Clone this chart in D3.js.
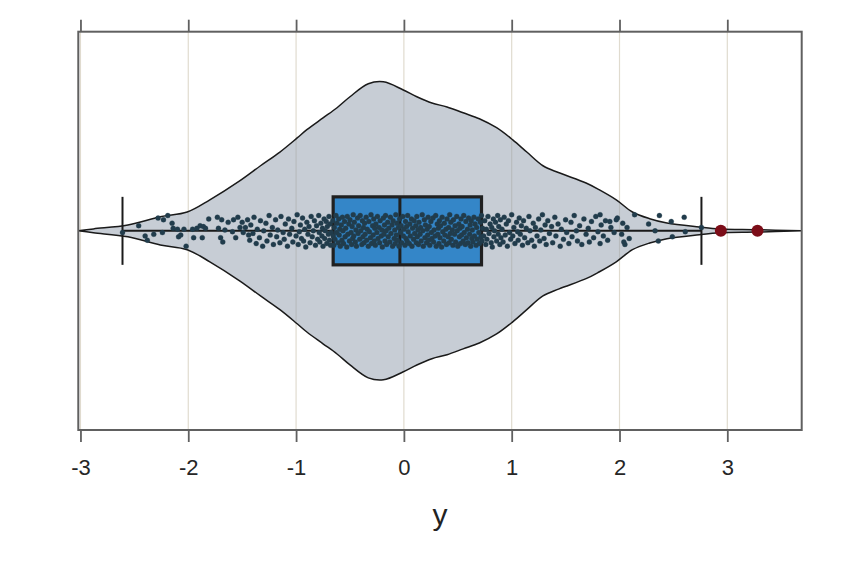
<!DOCTYPE html>
<html>
<head>
<meta charset="utf-8">
<script src="https://cdn.jsdelivr.net/npm/d3@7"></script>
<style>
  html, body { margin: 0; padding: 0; background: #ffffff; }
  svg { display: block; font-family: "Liberation Sans", Arial, Helvetica, sans-serif; }
</style>
</head>
<body>
<div id="Violin-div"></div>
<script>
const CHART_WIDTH = 864;
const CHART_HEIGHT = 576;
const PLOT = { left: 78.3, right: 801.7, top: 31.7, bottom: 430 };

// axis
const xTicks = [-3, -2, -1, 0, 1, 2, 3];
const xDomain = [-3.02, 3.69];
const axisTitle = 'y';

// density outline of the violin (value, density)
const violinValues  = [-3.02, -2.88, -2.56, -2.26, -2.01, -1.80, -1.52, -1.33, -1.15, -0.99, -0.90, -0.75, -0.62, -0.50, -0.33, -0.19, -0.01, 0.12, 0.26, 0.40, 0.55, 0.70, 0.86, 1.01, 1.14, 1.29, 1.44, 1.69, 1.81, 1.97, 2.12, 2.28, 2.44, 2.74, 2.93, 3.27, 3.69];
const violinDensity = [0.000, 0.005, 0.015, 0.036, 0.048, 0.079, 0.128, 0.166, 0.201, 0.237, 0.258, 0.288, 0.314, 0.342, 0.375, 0.380, 0.360, 0.342, 0.326, 0.316, 0.301, 0.286, 0.263, 0.232, 0.201, 0.166, 0.148, 0.122, 0.105, 0.079, 0.048, 0.031, 0.020, 0.010, 0.005, 0.003, 0.000];

// box: q1, median, q3 and whisker ends
const boxStats = [-0.656, -0.037, 0.72];
const whiskers = [-2.61, 2.76];
const outliers = [2.94, 3.28];

// jittered observations: [value, vertical jitter (-1..1)]
const jitterPoints = [
  [-2.61,0.1],[-2.46,-0.3],[-2.40,0.3],[-2.38,0.55],[-2.32,0.2],[-2.28,-0.75],[-2.24,0.1],[-2.23,-0.65],[-2.19,-0.9],[-2.15,-0.45],
  [-2.14,-0.15],[-2.10,-0.1],[-2.09,0.35],[-2.07,0.25],[-2.04,-0.1],[-2.02,0.9],[-1.96,-0.1],[-1.95,0.4],[-1.92,-0.15],[-1.89,-0.3],
  [-1.87,0.4],[-1.86,-0.25],[-1.84,-0.15],[-1.81,-0.7],[-1.73,-0.8],[-1.72,-0.15],[-1.70,0.4],[-1.69,-0.65],[-1.68,0.65],[-1.66,-0.05],
  [-1.63,-0.5],[-1.59,0.05],[-1.58,-0.65],[-1.56,0.4],[-1.54,-0.8],[-1.52,-0.2],[-1.50,-0.5],[-1.49,0.1],[-1.47,-0.2],[-1.45,-0.65],[-1.44,0.25],
  [-1.43,0.55],[-1.42,-0.35],[-1.40,0.15],[-1.39,-0.8],[-1.37,0.75],[-1.36,-0.1],[-1.34,0.4],[-1.33,-0.6],[-1.31,0.9],[-1.30,0.0],
  [-1.28,-0.45],[-1.27,0.6],[-1.25,-0.9],[-1.24,0.25],[-1.22,-0.2],[-1.21,0.8],[-1.19,-0.65],[-1.18,0.35],[-1.17,-0.05],[-1.15,0.7],
  [-1.14,-0.85],[-1.12,0.1],[-1.11,0.5],[-1.10,-0.4],[-1.08,0.9],[-1.07,-0.7],[-1.06,0.2],[-1.04,-0.15],[-1.03,0.65],[-1.02,-0.55],
  [-1.00,0.3],[-0.99,-0.95],[-0.98,0.8],[-0.97,0.05],[-0.96,-0.35],[-0.95,0.45],[-0.94,-0.75],[-0.93,0.6],[-0.92,-0.1],[-0.91,0.95],
  [-0.90,-0.5],[-0.89,0.2],[-0.88,-0.25],[-0.87,0.7],[-0.86,-0.85],[-0.85,0.35],[-0.84,0.0],[-0.83,-0.6],[-0.82,0.85],[-0.81,-0.3],
  [-0.80,0.5],[-0.79,-0.9],[-0.785,0.1],[-0.78,0.65],[-0.77,-0.45],[-0.76,0.3],[-0.755,-0.15],[-0.75,0.9],[-0.74,-0.7],[-0.735,0.45],
  [-0.73,0.0],[-0.72,-0.55],[-0.715,0.75],[-0.71,-0.25],[-0.70,0.2],[-0.695,-0.85],[-0.69,0.55],[-0.685,-0.4],[-0.68,0.85],[-0.675,0.1],
  [-0.66,-0.6],[-0.655,0.3],[-0.65,0.85],[-0.645,-0.2],[-0.64,0.5],[-0.63,-0.9],[-0.625,0.1],[-0.62,-0.45],[-0.61,0.7],[-0.605,-0.7],
  [-0.60,0.25],[-0.595,-0.1],[-0.59,0.9],[-0.58,-0.35],[-0.575,0.55],[-0.57,-0.8],
  [-0.565,0.0],[-0.56,0.75],[-0.55,-0.55],[-0.545,0.35],[-0.54,-0.15],[-0.53,0.95],[-0.525,-0.85],[-0.52,0.2],[-0.51,-0.4],[-0.505,0.6],
  [-0.50,-0.65],[-0.49,0.1],[-0.485,0.8],[-0.48,-0.25],[-0.475,0.45],[-0.47,-0.95],
  [-0.465,0.3],[-0.46,-0.5],[-0.45,0.65],[-0.445,-0.05],[-0.44,0.9],[-0.43,-0.75],[-0.425,0.15],[-0.42,-0.3],[-0.41,0.5],[-0.405,-0.9],
  [-0.40,0.0],[-0.39,0.8],[-0.385,-0.6],[-0.38,0.35],[-0.375,-0.2],[-0.37,0.7],
  [-0.365,-0.45],[-0.36,0.2],[-0.35,-0.8],[-0.345,0.55],[-0.34,-0.1],[-0.33,0.9],[-0.325,-0.55],[-0.32,0.05],[-0.31,0.4],[-0.305,-0.95],
  [-0.30,0.75],[-0.29,-0.3],[-0.285,0.25],[-0.28,-0.7],[-0.275,0.6],[-0.27,-0.15],
  [-0.265,0.85],[-0.26,-0.4],[-0.25,0.1],[-0.245,-0.85],[-0.24,0.45],[-0.23,-0.2],[-0.225,0.7],[-0.22,-0.6],[-0.21,0.3],[-0.205,-0.05],
  [-0.20,0.95],[-0.19,-0.75],[-0.185,0.2],[-0.18,-0.35],[-0.175,0.6],[-0.17,-0.9],
  [-0.165,0.0],[-0.16,0.8],[-0.15,-0.5],[-0.145,0.35],[-0.14,-0.15],[-0.13,0.65],[-0.125,-0.8],[-0.12,0.15],[-0.11,-0.35],[-0.105,0.9],
  [-0.10,-0.6],[-0.09,0.45],[-0.085,-0.05],[-0.08,0.75],[-0.075,-0.95],[-0.07,0.25],
  [-0.065,-0.45],[-0.06,0.55],[-0.05,-0.2],[-0.045,0.9],[-0.04,-0.7],[-0.03,0.1],[-0.025,-0.3],[-0.02,0.7],[-0.01,-0.85],[-0.005,0.3],
  [0.0,-0.1],[0.01,0.85],[0.015,-0.55],[0.02,0.45],[0.025,-0.25],[0.03,0.6],
  [0.035,-0.9],[0.04,0.05],[0.05,0.75],[0.055,-0.4],[0.06,0.3],[0.07,-0.7],[0.075,0.9],[0.08,-0.15],[0.09,0.5],[0.095,-0.6],
  [0.10,0.15],[0.11,-0.3],[0.115,0.7],[0.12,-0.85],[0.125,0.35],[0.13,-0.05],
  [0.135,0.8],[0.14,-0.5],[0.15,0.2],[0.155,-0.2],[0.16,0.6],[0.17,-0.95],[0.175,0.0],[0.18,0.9],[0.19,-0.65],[0.195,0.4],
  [0.20,-0.35],[0.21,0.7],[0.215,-0.1],[0.22,0.25],[0.225,-0.8],[0.23,0.55],
  [0.235,-0.25],[0.24,0.85],[0.25,-0.55],[0.255,0.1],[0.26,0.45],[0.27,-0.75],[0.275,0.65],[0.28,-0.05],[0.29,0.3],[0.295,-0.9],
  [0.30,0.9],[0.31,-0.4],[0.315,0.2],[0.32,-0.15],[0.325,0.75],[0.33,-0.6],
  [0.335,0.4],[0.34,-0.3],[0.35,0.95],[0.355,-0.8],[0.36,0.05],[0.37,0.6],[0.375,-0.45],[0.38,0.25],[0.39,-0.1],[0.395,0.8],
  [0.40,-0.7],[0.41,0.35],[0.415,-0.2],[0.42,0.7],[0.425,-0.95],[0.43,0.15],
  [0.435,-0.5],[0.44,0.5],[0.45,-0.05],[0.455,0.85],[0.46,-0.65],[0.47,0.2],[0.475,-0.3],[0.48,0.65],[0.49,-0.85],[0.495,0.0],
  [0.50,0.9],[0.51,-0.4],[0.515,0.35],[0.52,-0.15],[0.525,0.75],[0.53,-0.7],
  [0.535,0.25],[0.54,-0.25],[0.55,0.6],[0.555,-0.9],[0.56,0.1],[0.57,0.8],[0.575,-0.55],[0.58,0.4],[0.59,-0.1],[0.595,0.7],
  [0.60,-0.75],[0.61,0.2],[0.615,-0.35],[0.62,0.9],[0.625,-0.6],[0.63,0.45],
  [0.635,-0.05],[0.64,0.65],[0.65,-0.8],[0.655,0.3],[0.66,-0.4],[0.67,0.85],[0.675,-0.2],[0.68,0.5],[0.69,-0.7],[0.695,0.1],
  [0.70,0.75],[0.71,-0.5],[0.715,0.35],[0.72,-0.9],[0.725,0.6],[0.73,-0.15],
  [0.74,0.3],[0.75,-0.6],[0.76,0.8],[0.765,-0.1],[0.77,0.5],[0.78,-0.85],[0.79,0.15],[0.80,-0.4],[0.81,0.7],[0.815,-0.2],
  [0.82,0.95],[0.83,-0.7],[0.835,0.35],[0.84,0.0],[0.85,-0.5],[0.86,0.6],[0.87,-0.9],[0.875,0.2],[0.88,-0.25],[0.89,0.8],
  [0.895,-0.65],[0.90,0.4],[0.91,-0.1],[0.92,0.65],[0.93,-0.8],[0.94,0.25],[0.95,-0.4],[0.96,0.9],[0.97,-0.6],[0.98,0.1],
  [0.99,0.5],[1.00,-0.95],[1.01,0.3],[1.02,-0.2],[1.03,0.75],[1.045,-0.5],[1.055,0.05],[1.06,0.55],[1.07,-0.75],[1.08,0.2],
  [1.09,-0.3],[1.10,0.85],[1.11,-0.6],[1.12,0.4],[1.135,-0.15],[1.15,0.7],[1.16,-0.85],[1.17,0.0],[1.185,0.55],[1.20,-0.45],
  [1.21,0.9],[1.22,-0.2],[1.235,0.3],[1.25,-0.7],[1.26,0.6],[1.27,-0.05],[1.285,-0.95],[1.30,0.45],[1.31,-0.35],[1.32,0.8],
  [1.335,-0.6],[1.35,0.15],[1.37,-0.25],[1.38,0.7],[1.40,-0.8],[1.41,0.3],[1.43,-0.4],[1.45,0.9],[1.46,-0.1],[1.48,0.5],
  [1.50,-0.65],[1.51,0.1],[1.53,0.75],[1.55,-0.5],[1.56,0.35],[1.58,-0.9],[1.60,0.0],[1.61,0.6],[1.63,-0.3],[1.65,0.8],
  [1.67,-0.7],[1.69,0.2],[1.71,-0.15],[1.72,0.65],[1.74,-0.55],[1.76,0.4],[1.78,-0.85],[1.80,0.05],[1.82,0.75],[1.83,-0.35],
  [1.85,0.3],[1.87,-0.6],[1.89,0.55],[1.92,-0.2],[1.95,0.1],[1.98,-0.75],[1.82,-0.95],[1.91,-0.55],[1.97,-0.65],[2.02,0.2],
  [2.03,-0.45],[2.05,0.8],[2.04,0.65],[2.07,-0.2],[2.09,0.45],[2.14,-0.95],[2.27,-0.4],[2.33,0.0],[2.36,0.6],[2.37,-0.9],
  [2.48,-0.55],[2.49,0.35],[2.60,-0.8],[2.61,0.05],[2.76,-0.2]
];

/** Horizontal violin with box, jitter and outliers. */
class ViolinPlot {

  constructor() {
    this.svg = d3.select('#Violin-div')
      .append('svg')
      .attr('width', CHART_WIDTH)
      .attr('height', CHART_HEIGHT);

    this.xScale = d3.scaleLinear()
      .domain(xDomain)
      .range([PLOT.left, PLOT.right]);

    // single category band, the violin sits in its middle
    this.yBand = d3.scaleBand()
      .domain([axisTitle])
      .range([PLOT.top, PLOT.bottom]);
    this.cy = this.yBand(axisTitle) + this.yBand.bandwidth() / 2;

    this.widthScale = d3.scaleLinear()
      .domain([0, d3.max(violinDensity)])
      .range([0, 149]);

    this.jitterScale = d3.scaleLinear()
      .domain([-1, 1])
      .range([-17, 17]);

    this.boxHalf = 34;

    this.drawGrid();
    this.drawViolin();
    this.drawWhiskers();
    this.drawBox();
    this.drawPoints();
    this.drawOutliers();
    this.drawFrame();
    this.drawAxes();
  }

  drawGrid() {
    this.svg.append('g')
      .selectAll('line')
      .data(xTicks)
      .join('line')
      .attr('x1', d => this.xScale(d))
      .attr('x2', d => this.xScale(d))
      .attr('y1', PLOT.top)
      .attr('y2', PLOT.bottom)
      .attr('stroke', '#e0dbcf')
      .attr('stroke-width', 1.2);
  }

  drawViolin() {
    const rows = violinValues.map((v, i) => [v, violinDensity[i]]);
    const area = d3.area()
      .x(d => this.xScale(d[0]))
      .y0(d => this.cy + this.widthScale(d[1]))
      .y1(d => this.cy - this.widthScale(d[1]))
      .curve(d3.curveCatmullRom.alpha(0.5));

    this.svg.append('path')
      .datum(rows)
      .attr('d', area)
      .attr('fill', 'rgb(143,155,171)')
      .attr('fill-opacity', 0.5)
      .attr('stroke', '#1a1a1a')
      .attr('stroke-width', 1.5);
  }

  drawWhiskers() {
    const g = this.svg.append('g');
    g.append('line')
      .attr('x1', this.xScale(whiskers[0]))
      .attr('x2', this.xScale(whiskers[1]))
      .attr('y1', this.cy)
      .attr('y2', this.cy)
      .attr('stroke', '#1a1a1a')
      .attr('stroke-width', 2);

    g.selectAll('.cap')
      .data(whiskers)
      .join('line')
      .attr('class', 'cap')
      .attr('x1', d => this.xScale(d))
      .attr('x2', d => this.xScale(d))
      .attr('y1', this.cy - this.boxHalf)
      .attr('y2', this.cy + this.boxHalf)
      .attr('stroke', '#1a1a1a')
      .attr('stroke-width', 2);
  }

  drawBox() {
    const [q1, med, q3] = boxStats;
    this.svg.append('rect')
      .attr('x', this.xScale(q1))
      .attr('y', this.cy - this.boxHalf)
      .attr('width', this.xScale(q3) - this.xScale(q1))
      .attr('height', this.boxHalf * 2)
      .attr('fill', '#3486c8')
      .attr('stroke', '#202020')
      .attr('stroke-width', 3.2);

    this.svg.append('line')
      .attr('x1', this.xScale(med))
      .attr('x2', this.xScale(med))
      .attr('y1', this.cy - this.boxHalf)
      .attr('y2', this.cy + this.boxHalf)
      .attr('stroke', '#202020')
      .attr('stroke-width', 3);
  }

  drawPoints() {
    this.svg.append('g')
      .selectAll('circle')
      .data(jitterPoints)
      .join('circle')
      .attr('cx', d => this.xScale(d[0]))
      .attr('cy', d => this.cy + this.jitterScale(d[1]))
      .attr('r', 2.5)
      .attr('fill', '#213c4c')
      .attr('stroke', '#213c4c')
      .attr('stroke-width', 0.3);
  }

  drawOutliers() {
    this.svg.append('g')
      .selectAll('circle')
      .data(outliers)
      .join('circle')
      .attr('cx', d => this.xScale(d))
      .attr('cy', this.cy)
      .attr('r', 6)
      .attr('fill', '#7c0d18');
  }

  drawFrame() {
    this.svg.append('rect')
      .attr('x', PLOT.left)
      .attr('y', PLOT.top)
      .attr('width', PLOT.right - PLOT.left)
      .attr('height', PLOT.bottom - PLOT.top)
      .attr('fill', 'none')
      .attr('stroke', '#606060')
      .attr('stroke-width', 2);
  }

  drawAxes() {
    const bottom = this.svg.append('g')
      .attr('transform', `translate(0,${PLOT.bottom})`)
      .call(d3.axisBottom(this.xScale)
        .tickValues(xTicks)
        .tickFormat(d3.format('d'))
        .tickSize(12)
        .tickPadding(17));

    const top = this.svg.append('g')
      .attr('transform', `translate(0,${PLOT.top})`)
      .call(d3.axisTop(this.xScale)
        .tickValues(xTicks)
        .tickFormat('')
        .tickSize(12));

    [bottom, top].forEach(g => {
      g.select('.domain').remove();
      g.selectAll('.tick line')
        .attr('stroke', '#606060')
        .attr('stroke-width', 1.8);
    });

    bottom.selectAll('.tick text')
      .attr('font-family', '"Liberation Sans", Arial, sans-serif')
      .attr('font-size', 22)
      .attr('fill', '#262626')
      .text(d => d < 0 ? '-' + Math.abs(d) : d);

    this.svg.append('text')
      .attr('x', (PLOT.left + PLOT.right) / 2)
      .attr('y', 525)
      .attr('text-anchor', 'middle')
      .attr('font-size', 30)
      .attr('fill', '#222')
      .text(axisTitle);
  }

}

new ViolinPlot();
</script>
</body>
</html>
